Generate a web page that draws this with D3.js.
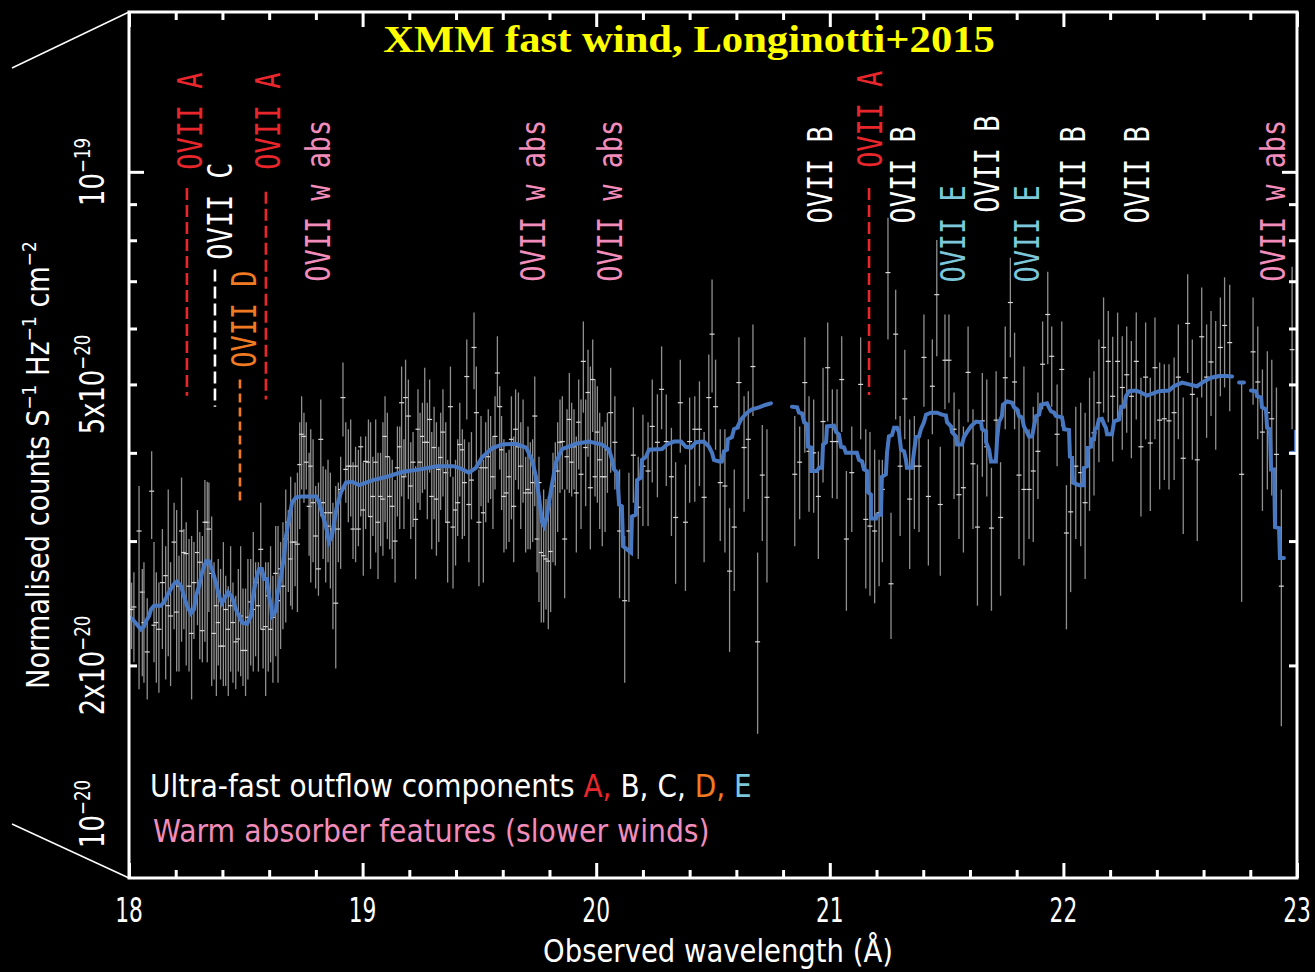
<!DOCTYPE html>
<html>
<head>
<meta charset="utf-8">
<script src="https://cdn.jsdelivr.net/npm/d3@7"></script>
<style>
  html, body { margin: 0; padding: 0; background: #000; }
  svg { display: block; }
</style>
</head>
<body>
<svg id="chart" width="1315" height="972"></svg>
<script>
/* XMM RGS spectrum around the OVII lines, fluxes in units of 1e-20. */

/* ---------- DATA ---------- */

// binned spectrum: [wavelength, lower, value, upper]
const points = [
  [18.011,2.11,2.40,2.62],[18.021,2.02,2.42,2.71],[18.043,1.85,3.10,3.59],[18.057,1.93,2.54,2.74],
  [18.064,1.89,2.30,2.80],[18.078,1.79,2.09,2.49],[18.097,3.02,3.53,4.02],[18.107,2.02,2.28,2.99],
  [18.117,1.89,2.30,2.71],[18.128,1.83,2.25,2.62],[18.143,2.11,2.62,3.12],[18.157,1.91,2.68,2.95],
  [18.168,2.06,2.43,3.55],[18.178,1.87,2.35,2.80],[18.193,2.25,2.99,3.40],[18.204,1.96,2.38,3.32],
  [18.214,1.96,2.59,2.86],[18.225,2.16,3.10,3.69],[18.235,2.25,2.89,3.12],[18.245,2.00,2.88,3.19],
  [18.257,1.96,2.59,3.02],[18.268,1.79,2.22,3.05],[18.278,2.18,2.62,2.99],[18.293,2.28,2.89,3.32],
  [18.303,2.04,2.80,3.09],[18.314,2.02,2.24,3.05],[18.325,2.16,3.19,3.66],[18.335,2.02,3.19,3.64],
  [18.342,2.38,3.12,3.63],[18.354,1.87,2.70,3.25],[18.364,1.91,2.22,2.80],[18.374,1.81,2.43,2.57],
  [18.382,2.00,2.30,2.83],[18.392,1.91,2.13,2.74],[18.404,1.87,2.13,2.99],[18.414,1.87,2.40,2.68],
  [18.425,1.81,2.25,2.59],[18.435,1.96,2.43,2.95],[18.445,1.89,2.30,2.62],[18.457,1.85,2.16,2.51],
  [18.468,1.96,2.18,2.74],[18.478,1.93,2.35,2.95],[18.488,1.87,2.10,2.57],[18.499,1.81,2.10,2.57],
  [18.509,1.91,2.34,2.83],[18.521,2.00,2.46,2.83],[18.532,1.96,2.40,3.09],[18.542,2.06,2.62,2.80],
  [18.554,1.96,2.43,2.80],[18.564,2.25,2.92,3.40],[18.574,1.98,2.25,2.74],[18.585,1.81,2.27,2.80],
  [18.596,1.96,2.51,2.80],[18.606,2.02,2.25,2.95],[18.616,1.89,2.34,2.68],[18.628,2.06,2.70,3.15],
  [18.638,1.89,2.47,3.15],[18.649,2.11,2.74,2.99],[18.659,2.25,2.59,3.19],[18.671,2.30,3.02,3.55],
  [18.682,2.54,3.19,3.32],[18.692,2.43,2.83,3.70],[18.699,2.40,2.99,3.36],[18.711,2.59,2.99,3.63],
  [18.721,2.38,2.97,3.75],[18.731,3.12,3.85,4.42],[18.739,3.55,4.25,4.81],[18.749,3.40,4.22,4.56],
  [18.759,3.55,3.88,4.42],[18.771,2.86,3.36,4.00],[18.778,2.62,3.83,4.32],[18.788,2.80,3.40,4.18],
  [18.799,2.57,3.05,3.59],[18.811,2.51,2.74,3.63],[18.821,3.25,4.18,4.76],[18.831,2.83,3.40,3.83],
  [18.842,2.62,3.29,3.79],[18.852,2.80,3.15,3.91],[18.862,2.57,3.29,3.75],[18.873,2.25,3.12,3.40],
  [18.885,1.98,2.45,3.59],[18.896,2.80,3.12,3.63],[18.906,2.74,3.55,3.95],[18.916,4.22,4.79,5.37],
  [18.928,3.40,3.79,4.42],[18.939,3.19,3.83,4.32],[18.949,3.25,3.83,4.46],[18.959,2.83,3.12,3.88],
  [18.970,2.80,3.83,4.08],[18.982,2.95,3.12,4.04],[18.992,3.25,4.08,4.22],[19.003,2.68,3.32,3.88],
  [19.013,3.12,3.89,4.22],[19.025,3.25,3.88,4.46],
  [19.034,2.74,3.25,4.42],[19.044,3.05,3.47,3.95],[19.056,2.89,3.88,4.46],[19.066,2.65,3.19,4.00],
  [19.077,2.95,3.47,4.00],[19.087,2.86,3.44,4.42],[19.096,3.19,4.22,4.81],[19.106,3.02,3.95,4.56],
  [19.116,2.92,3.47,3.95],[19.127,2.83,3.36,3.91],[19.139,2.62,3.00,3.66],[19.149,3.25,3.81,4.36],
  [19.159,3.12,4.08,4.36],[19.167,3.47,4.71,5.30],[19.177,3.12,3.70,4.18],[19.184,3.70,4.79,5.42],
  [19.196,3.44,4.51,5.08],[19.206,3.02,3.59,4.14],[19.216,3.14,3.88,4.28],[19.227,2.65,3.22,3.83],
  [19.237,3.40,4.32,4.92],[19.246,3.32,3.88,4.56],[19.256,3.51,4.22,4.71],[19.266,3.55,4.14,5.28],
  [19.277,3.22,4.14,4.71],[19.287,3.75,4.46,5.08],[19.296,2.92,3.47,4.28],[19.306,3.22,4.07,4.65],
  [19.316,2.86,3.44,4.42],[19.326,2.99,3.79,4.08],[19.334,3.32,3.94,4.56],[19.344,3.47,4.28,4.92],
  [19.356,3.19,3.75,4.42],[19.364,2.62,3.19,3.91],[19.376,3.70,4.65,5.30],[19.387,2.57,3.14,3.70],
  [19.398,2.77,3.32,3.91],[19.407,3.05,3.40,4.18],[19.416,3.47,4.11,4.71],[19.427,3.02,4.04,4.32],
  [19.436,3.05,3.63,4.18],[19.446,4.46,5.13,5.79],[19.455,2.80,3.38,4.14],[19.466,3.22,3.66,4.28],
  [19.477,4.92,5.64,6.32],[19.487,3.83,4.56,5.30],[19.498,2.59,3.19,3.79],[19.507,3.36,3.81,4.51],
  [19.517,2.62,3.29,3.91],[19.527,3.19,3.81,4.42],[19.538,3.40,3.95,4.61],[19.548,3.44,4.04,4.51],
  [19.558,3.12,3.70,4.22],[19.567,3.55,4.22,4.81],[19.577,4.65,5.19,5.85],[19.587,3.79,4.65,4.97],
  [19.595,3.32,4.04,4.51],[19.605,2.89,3.47,4.18],[19.615,2.92,3.51,4.00],[19.627,2.99,3.70,4.04],
  [19.637,3.22,4.18,4.81],[19.647,2.80,3.36,4.22],[19.655,3.66,4.32,4.92],[19.667,3.55,4.08,4.87],
  [19.677,3.12,3.83,4.42],[19.687,3.40,4.08,4.76],[19.698,2.89,3.51,3.95],[19.708,2.92,3.55,4.36],
  [19.718,2.92,3.51,4.14],[19.728,2.99,3.63,4.18],[19.737,3.36,4.51,5.13],[19.747,2.71,3.02,3.70],
  [19.755,2.46,3.63,3.95],[19.765,2.30,2.89,3.25],[19.775,2.30,2.86,3.55],[19.785,2.40,2.83,3.44],
  [19.795,2.25,2.81,3.47],[19.805,2.38,2.90,3.40],[19.815,2.80,3.59,4.00],[19.825,2.77,3.77,4.14],
  [19.835,3.09,3.77,4.42],[19.845,3.51,4.14,4.76],[19.855,3.55,4.15,4.81],[19.865,2.49,3.02,3.55],
  [19.875,3.55,3.95,4.61],[19.885,3.51,4.46,5.19],[19.895,3.47,3.88,4.71],[19.905,3.55,4.08,4.61],
  [19.915,2.89,3.51,4.22],[19.925,3.79,4.42,5.08],[19.935,3.12,3.73,4.76],[19.945,4.56,5.39,6.14],
  [19.955,3.36,4.07,4.76],[19.965,3.95,4.87,5.60],[19.975,2.92,3.57,5.30],[19.985,4.28,5.08,5.79],
  [19.995,3.47,3.70,5.08],[20.005,3.40,4.28,4.97],[20.015,3.12,3.91,4.56],[20.026,2.95,3.70,4.36],
  [20.038,3.09,3.70,4.42],[20.048,3.51,4.04,4.56],
  [20.062,3.75,4.56,5.28],[20.080,3.55,4.14,4.81],[20.100,2.49,3.10,3.79],[20.122,1.89,2.47,3.05],
  [20.140,2.46,3.10,3.75],[20.159,3.40,3.97,4.64],[20.180,2.83,3.35,3.95],[20.200,3.15,3.83,4.53],
  [20.222,3.15,3.77,4.42],[20.240,3.63,4.36,5.08],[20.262,3.46,4.14,4.84],[20.280,4.32,4.92,5.66],
  [20.300,3.59,4.15,4.84],[20.322,3.05,3.70,4.34],[20.340,2.61,3.24,3.88],[20.360,4.00,4.71,5.42],
  [20.382,2.55,3.19,3.85],[20.400,3.40,4.15,4.79],[20.422,3.41,4.32,4.81],[20.442,3.59,4.32,5.05],
  [20.462,2.80,3.46,4.28],[20.482,4.04,4.79,5.51],[20.496,4.87,5.89,7.04],[20.511,4.04,4.65,5.42],
  [20.531,3.00,3.63,4.32],[20.551,2.89,3.59,4.32],[20.571,2.09,2.72,3.34],[20.591,2.55,3.14,3.79],
  [20.611,4.32,5.03,5.83],[20.633,3.30,4.07,4.81],[20.651,3.44,4.18,4.89],[20.671,4.51,5.30,6.08],
  [20.691,1.60,2.16,2.89],[20.711,3.00,3.72,4.38],[20.731,2.62,3.46,4.32],
  [20.850,2.95,3.73,4.51],[20.871,3.22,3.88,4.36],[20.893,4.00,5.03,5.83],[20.911,3.30,4.02,4.81],
  [20.931,3.29,4.00,4.76],[20.951,2.83,3.47,4.02],[20.971,3.63,4.43,5.28],[20.991,4.43,5.28,6.12],
  [21.011,3.45,4.15,4.92],[21.031,3.44,4.15,4.92],[21.051,4.28,5.08,5.85],[21.071,2.39,3.02,3.77],
  [21.094,3.09,3.75,4.36],[21.132,4.18,5.00,5.83],[21.154,2.57,3.22,4.32],[21.172,2.51,3.15,4.28],
  [21.192,2.45,3.10,4.04],[21.211,2.59,3.29,3.91],[21.225,2.80,3.55,3.91],[21.249,5.79,7.20,8.61],
  [21.262,2.18,2.61,3.29],[21.282,4.46,5.89,6.81],[21.301,3.05,3.83,4.51],[21.321,4.18,4.77,5.60],
  [21.342,2.74,3.44,4.46],[21.362,3.12,3.83,4.51],[21.382,3.09,3.83,4.28],[21.403,4.65,5.46,6.28],
  [21.422,2.77,3.47,4.18],[21.439,4.25,4.97,5.79],[21.458,5.48,6.70,8.01],[21.473,2.68,3.38,4.08],
  [21.493,4.61,5.41,6.28],[21.510,4.71,5.41,6.28],[21.532,3.44,4.32,4.87],[21.553,3.02,3.49,4.61],
  [21.572,2.89,3.57,4.36],[21.592,4.42,5.20,6.04],[21.613,3.12,3.86,4.61],[21.632,2.43,3.14,3.85],
  [21.653,3.70,4.44,5.19],[21.672,3.47,4.08,5.08],[21.692,2.39,3.13,3.81],[21.712,3.88,4.45,5.22],
  [21.731,2.51,3.24,3.88],[21.751,4.32,5.11,6.04],[21.773,5.46,6.53,7.56],[21.791,4.32,5.04,5.92],
  [21.810,2.83,3.72,4.61],[21.831,2.77,3.55,5.30],[21.853,3.02,3.55,4.32],[21.871,2.99,3.77,4.65],
  [21.891,3.44,4.02,4.87],[21.911,4.61,5.34,6.14],[21.933,5.34,6.28,7.22],[21.950,4.65,5.48,6.04],
  [21.973,3.83,4.25,5.00],[21.993,4.36,5.25,6.14],[22.013,2.25,3.08,3.60],[22.031,2.54,3.30,3.93],
  [22.053,3.02,3.83,4.65],
  [22.074,2.95,3.75,4.71],[22.093,2.65,3.40,4.56],[22.112,3.31,4.08,5.11],[22.131,3.48,4.27,5.22],
  [22.152,3.88,4.71,5.79],[22.172,4.56,5.64,6.64],[22.192,4.42,5.39,6.35],[22.211,3.89,4.81,5.84],
  [22.232,4.47,5.39,6.32],[22.252,4.04,4.95,5.85],[22.271,4.27,5.16,6.04],[22.291,3.93,4.81,5.76],
  [22.312,4.46,5.39,6.32],[22.332,3.25,4.08,5.11],[22.352,4.18,5.12,6.12],[22.372,3.31,4.13,5.11],
  [22.392,4.18,5.28,6.22],[22.412,3.55,4.45,5.37],[22.432,3.66,4.47,5.34],[22.452,3.55,4.44,5.34],
  [22.474,3.66,4.56,5.46],[22.492,4.18,5.12,6.08],[22.513,3.07,3.93,4.79],[22.532,5.19,6.10,7.16],
  [22.552,3.91,4.84,5.79],[22.573,3.00,3.91,4.79],[22.592,4.79,5.84,6.86],[22.613,4.20,5.12,6.08],
  [22.632,4.51,5.38,6.35],[22.652,4.04,5.11,6.15],[22.672,4.81,5.64,6.64],[22.690,4.95,6.06,7.09],
  [22.712,4.58,5.73,6.92],[22.763,2.46,3.73,5.03],[22.812,4.68,5.56,6.64],[22.832,4.18,5.04,6.04],
  [22.852,3.31,4.28,5.25],[22.873,3.55,4.56,5.57],[22.892,3.48,4.47,5.42],[22.912,3.15,3.98,4.95],
  [22.933,1.64,2.59,3.55],[22.979,4.32,5.60,7.34]
];

// best-fit model, [wavelength, flux]; null marks a gap in the chip coverage
const model = [
  [18.000,2.34],[18.013,2.33],[18.051,2.25],[18.064,2.27],[18.073,2.31],[18.086,2.35],[18.094,2.40],
  [18.107,2.43],[18.137,2.43],[18.150,2.46],[18.163,2.51],[18.180,2.57],[18.193,2.61],[18.205,2.63],
  [18.223,2.59],[18.235,2.51],[18.248,2.43],[18.265,2.37],[18.278,2.40],[18.287,2.51],[18.300,2.59],
  [18.313,2.71],[18.330,2.81],[18.342,2.81],[18.355,2.74],[18.372,2.62],[18.385,2.51],[18.398,2.45],
  [18.415,2.51],[18.424,2.54],[18.441,2.50],[18.458,2.40],[18.471,2.35],[18.484,2.30],[18.505,2.29],
  [18.522,2.35],[18.531,2.51],[18.544,2.65],[18.557,2.74],[18.569,2.74],[18.578,2.65],[18.591,2.65],
  [18.599,2.51],[18.608,2.43],[18.612,2.35],[18.629,2.39],[18.634,2.51],[18.651,2.68],[18.664,2.86],
  [18.672,3.05],[18.685,3.22],[18.698,3.40],[18.715,3.46],[18.741,3.47],[18.801,3.47],[18.813,3.41],
  [18.826,3.29],[18.843,3.15],[18.856,2.99],[18.869,3.05],[18.878,3.19],[18.890,3.36],[18.908,3.52],
  [18.929,3.63],[18.955,3.64],[18.985,3.60],[19.015,3.63],[19.045,3.66],[19.104,3.70],[19.173,3.76],
  [19.246,3.79],[19.318,3.83],[19.387,3.83],[19.413,3.81],[19.455,3.75],[19.485,3.81],[19.511,3.94],
  [19.554,4.06],[19.597,4.11],[19.657,4.12],[19.700,4.07],[19.725,3.91],[19.742,3.70],[19.755,3.47],
  [19.768,3.19],[19.777,3.15],[19.789,3.25],[19.807,3.55],[19.828,3.88],[19.854,4.05],[19.914,4.12],
  [19.969,4.15],[20.025,4.11],[20.055,4.04],[20.068,3.91],[20.076,3.79],[20.089,3.75],[20.098,3.38],
  [20.110,3.36],[20.115,2.95],[20.132,2.92],[20.149,2.89],[20.153,3.25],[20.170,3.27],[20.175,3.66],
  [20.192,3.69],[20.196,3.91],[20.213,3.95],[20.226,4.04],[20.282,4.05],[20.303,4.11],[20.333,4.15],
  [20.363,4.15],[20.384,4.08],[20.406,4.07],[20.427,4.14],[20.461,4.15],[20.483,4.08],[20.496,4.00],
  [20.504,3.91],[20.526,3.89],[20.538,3.89],[20.547,4.02],[20.560,4.04],[20.564,4.18],[20.581,4.21],
  [20.590,4.32],[20.603,4.34],[20.620,4.46],[20.633,4.51],[20.646,4.56],[20.667,4.61],[20.697,4.64],
  [20.727,4.68],[20.748,4.70],
  null,
  [20.838,4.65],[20.860,4.64],[20.868,4.56],[20.881,4.55],[20.890,4.42],[20.902,4.39],[20.907,4.08],
  [20.920,4.07],[20.920,3.77],[20.945,3.77],[20.954,3.81],[20.967,3.81],[20.971,4.11],[20.984,4.14],
  [20.988,4.36],[21.018,4.37],[21.027,4.28],[21.039,4.25],[21.048,4.08],[21.061,4.07],[21.069,4.00],
  [21.116,4.00],[21.125,3.91],[21.138,3.89],[21.146,3.79],[21.159,3.77],[21.164,3.52],[21.176,3.49],
  [21.176,3.23],[21.198,3.23],[21.202,3.27],[21.219,3.27],[21.223,3.70],[21.240,3.73],[21.245,4.00],
  [21.253,4.22],[21.266,4.24],[21.275,4.34],[21.288,4.34],[21.296,4.28],[21.305,4.04],[21.318,4.02],
  [21.326,3.91],[21.330,3.81],[21.352,3.81],[21.360,4.00],[21.369,4.21],[21.382,4.22],[21.390,4.32],
  [21.403,4.42],[21.412,4.53],[21.433,4.56],[21.459,4.56],[21.480,4.53],[21.497,4.52],[21.502,4.42],
  [21.519,4.36],[21.523,4.28],[21.540,4.22],[21.545,4.11],[21.566,4.11],[21.574,4.21],[21.587,4.28],
  [21.604,4.36],[21.626,4.43],[21.647,4.42],[21.652,4.32],[21.669,4.29],[21.669,4.14],[21.682,4.04],
  [21.690,3.89],[21.711,3.89],[21.716,4.18],[21.724,4.42],[21.737,4.51],[21.741,4.68],[21.759,4.73],
  [21.780,4.71],[21.789,4.64],[21.801,4.61],[21.810,4.51],[21.823,4.49],[21.831,4.36],[21.844,4.28],
  [21.853,4.22],[21.866,4.22],[21.874,4.36],[21.883,4.51],[21.896,4.53],[21.904,4.68],[21.930,4.70],
  [21.938,4.64],[21.947,4.58],[21.960,4.56],[21.968,4.51],[21.994,4.49],[22.003,4.32],[22.024,4.31],
  [22.028,3.95],[22.037,3.94],[22.041,3.63],[22.067,3.60],[22.084,3.60],[22.088,3.81],[22.101,3.83],
  [22.105,4.07],[22.118,4.08],[22.118,4.18],[22.131,4.18],[22.135,4.32],[22.144,4.34],[22.152,4.46],
  [22.165,4.47],[22.174,4.39],[22.182,4.34],[22.187,4.25],[22.208,4.25],[22.217,4.43],[22.238,4.46],
  [22.247,4.65],[22.259,4.65],[22.268,4.81],[22.281,4.89],[22.311,4.90],[22.332,4.87],[22.358,4.82],
  [22.379,4.85],[22.409,4.89],[22.452,4.90],[22.473,4.97],[22.508,5.03],[22.538,5.00],[22.572,4.97],
  [22.602,5.05],[22.632,5.11],[22.666,5.14],[22.696,5.14],[22.722,5.13],
  null,
  [22.752,5.03],[22.773,5.03],
  null,
  [22.803,4.90],[22.825,4.89],[22.829,4.81],[22.846,4.79],[22.850,4.64],[22.867,4.61],[22.872,4.34],
  [22.884,4.32],[22.889,3.79],[22.902,3.79],[22.906,3.14],[22.923,3.13],[22.927,2.84],[22.944,2.84],
  null,
  [22.974,4.00],[22.996,4.00],[22.996,4.28],[23.000,4.28]
];

// line identifications: [wavelength, flux at lower end of label, text, component]
const lineLabels = [
  [18.261, 10.07, "OVII A", "A"],
  [18.390, 7.51, "OVII C", "C"],
  [18.492, 5.28, "OVII D", "D"],
  [18.595, 10.07, "OVII A", "A"],
  [18.809, 6.99, "OVII w abs", "W"],
  [19.729, 6.99, "OVII w abs", "W"],
  [20.059, 6.99, "OVII w abs", "W"],
  [20.958, 8.45, "OVII B", "B"],
  [21.172, 10.13, "OVII A", "A"],
  [21.313, 8.45, "OVII B", "B"],
  [21.527, 6.97, "OVII E", "E"],
  [21.673, 8.75, "OVII B", "B"],
  [21.844, 6.97, "OVII E", "E"],
  [22.041, 8.45, "OVII B", "B"],
  [22.315, 8.45, "OVII B", "B"],
  [22.897, 6.99, "OVII w abs", "W"]
];

// dashed markers: [wavelength, upper flux, lower flux, component]
const markerLines = [
  [18.248, 9.49, 4.82, "A"],
  [18.368, 7.27, 4.65, "C"],
  [18.475, 5.08, 3.41, "D"],
  [18.586, 9.37, 4.76, "A"],
  [21.168, 9.49, 4.83, "A"]
];

const xMajorTicks = [18, 19, 20, 21, 22, 23];
const yMajorTicks = [10];
const yMinorTicks = [2, 3, 4, 5, 6, 7, 8, 9];
const yLabelValues = [10, 5, 2, 1];
const yLabelMantissa = ["10", "5x10", "2x10", "10"];
const yLabelExponent = ["\u221219", "\u221220", "\u221220", "\u221220"];

const compColor = {
  A: "#e8262b", B: "#ffffff", C: "#ffffff", D: "#f07a22", E: "#7cc8da", W: "#f28dbb"
};

/* ---------- SETUP ---------- */

const W = 1315, H = 972;
const plotL = 129, plotR = 1297, plotT = 12, plotB = 878;
const SANS = "'DejaVu Sans', sans-serif";
const MONO = "'DejaVu Sans Mono', monospace";

const x = d3.scaleLinear().domain([18, 23]).range([plotL, plotR]);
const y = d3.scaleLog().domain([1, 16.84]).range([plotB, plotT]);

const svg = d3.select("#chart");
svg.append("rect").attr("width", W).attr("height", H).attr("fill", "#000");

svg.append("defs").append("clipPath").attr("id", "plotClip")
  .append("rect").attr("x", plotL).attr("y", plotT)
  .attr("width", plotR - plotL).attr("height", plotB - plotT);

/* squeeze a text horizontally (in its own frame) so it spans `target` px */
function fitText(sel, target, tx, ty, rot) {
  const len = sel.node().getComputedTextLength();
  const k = target / len;
  sel.attr("transform", "translate(" + tx + "," + ty + ")" +
    (rot ? " rotate(" + rot + ")" : "") + " scale(" + k + ",1)");
}

/* ---------- DATA MARKS ---------- */

const dataLayer = svg.append("g").attr("clip-path", "url(#plotClip)");

const bins = dataLayer.append("g").selectAll("g").data(points).join("g");
bins.append("line")
  .attr("x1", d => x(d[0])).attr("x2", d => x(d[0]))
  .attr("y1", d => y(d[1])).attr("y2", d => y(d[3]))
  .attr("stroke", "#8f8f8f").attr("stroke-width", 1.3);
bins.append("line")
  .attr("x1", d => x(d[0]) - 2.5).attr("x2", d => x(d[0]) + 2.5)
  .attr("y1", d => y(d[2])).attr("y2", d => y(d[2]))
  .attr("stroke", "#d8d8d8").attr("stroke-width", 1.2);

const modelLine = d3.line()
  .defined(d => d !== null)
  .x(d => x(d[0]))
  .y(d => y(d[1]));

dataLayer.append("path")
  .datum(model)
  .attr("d", modelLine)
  .attr("fill", "none")
  .attr("stroke", "#4878c2")
  .attr("stroke-width", 4)
  .attr("stroke-linejoin", "miter")
  .attr("stroke-linecap", "round");

/* ---------- LINE IDENTIFICATIONS ---------- */

svg.append("g").selectAll("line").data(markerLines).join("line")
  .attr("x1", d => x(d[0])).attr("x2", d => x(d[0]))
  .attr("y1", d => y(d[1])).attr("y2", d => y(d[2]))
  .attr("stroke", d => compColor[d[3]])
  .attr("stroke-width", 2.6)
  .attr("stroke-dasharray", d => d[3] === "D" ? "9,5" : "12,5");

svg.append("g").selectAll("text").data(lineLabels).join("text")
  .attr("transform", d => "translate(" + x(d[0]) + "," + y(d[1]) + ") rotate(-90) scale(0.815,1)")
  .attr("dy", "0.36em")
  .attr("font-family", MONO)
  .attr("font-size", 33)
  .attr("fill", d => compColor[d[3]])
  .attr("xml:space", "preserve")
  .text(d => d[2]);

/* ---------- AXES ---------- */

function tickAxis(axis, tr, values, size) {
  const g = svg.append("g").attr("transform", tr)
    .call(axis.tickValues(values).tickSize(size).tickSizeOuter(0).tickFormat(""));
  g.select(".domain").remove();
  g.selectAll(".tick line").attr("stroke", "#fff").attr("stroke-width", 3);
}

const xMinorTicks = d3.range(180, 231, 2).map(v => v / 10).filter(v => v % 1 !== 0);

tickAxis(d3.axisBottom(x), "translate(0," + plotB + ")", xMajorTicks, -15);
tickAxis(d3.axisBottom(x), "translate(0," + plotB + ")", xMinorTicks, -8);
tickAxis(d3.axisTop(x), "translate(0," + plotT + ")", xMajorTicks, -15);
tickAxis(d3.axisTop(x), "translate(0," + plotT + ")", xMinorTicks, -8);
tickAxis(d3.axisLeft(y), "translate(" + plotL + ",0)", yMajorTicks, -15);
tickAxis(d3.axisLeft(y), "translate(" + plotL + ",0)", yMinorTicks, -8);
tickAxis(d3.axisRight(y), "translate(" + plotR + ",0)", yMajorTicks, -15);
tickAxis(d3.axisRight(y), "translate(" + plotR + ",0)", yMinorTicks, -8);

svg.append("rect")
  .attr("x", plotL).attr("y", plotT)
  .attr("width", plotR - plotL).attr("height", plotB - plotT)
  .attr("fill", "none").attr("stroke", "#fff").attr("stroke-width", 3);

// thin guide lines that lead out of the frame on the left
svg.append("line").attr("x1", 12).attr("y1", plotT + 56).attr("x2", plotL).attr("y2", plotT)
  .attr("stroke", "#fff").attr("stroke-width", 1.4);
svg.append("line").attr("x1", 12).attr("y1", plotB - 54).attr("x2", plotL).attr("y2", plotB)
  .attr("stroke", "#fff").attr("stroke-width", 1.4);

// x tick labels
svg.append("g").selectAll("text").data(xMajorTicks).join("text")
  .attr("transform", d => "translate(" + x(d) + "," + (plotB + 44) + ") scale(0.64,1)")
  .attr("text-anchor", "middle")
  .attr("font-family", SANS)
  .attr("font-size", 34)
  .attr("fill", "#fff")
  .text(d => d);

// y tick labels, rotated, with superscript exponents
yLabelValues.forEach(function (v, i) {
  const t = svg.append("text")
    .attr("text-anchor", "middle")
    .attr("font-family", SANS)
    .attr("font-size", 34)
    .attr("fill", "#fff");
  t.append("tspan").text(yLabelMantissa[i]);
  t.append("tspan").attr("font-size", 22).attr("dy", -14).text(yLabelExponent[i]);
  const k = 0.76;
  const half = t.node().getComputedTextLength() * k / 2;
  const yc = Math.min(y(v), plotB - 30 - half);
  t.attr("transform", "translate(104," + yc + ") rotate(-90) scale(" + k + ",1)");
});

// y axis title
const yTitle = svg.append("text")
  .attr("text-anchor", "middle")
  .attr("font-family", SANS)
  .attr("font-size", 32)
  .attr("fill", "#fff");
yTitle.append("tspan").text("Normalised counts S");
yTitle.append("tspan").attr("font-size", 20).attr("dy", -13).text("\u22121");
yTitle.append("tspan").attr("dy", 13).text(" Hz");
yTitle.append("tspan").attr("font-size", 20).attr("dy", -13).text("\u22121");
yTitle.append("tspan").attr("dy", 13).text(" cm");
yTitle.append("tspan").attr("font-size", 20).attr("dy", -13).text("\u22122");
fitText(yTitle, 448, 49, 465, -90);

// x axis title
const xTitle = svg.append("text")
  .attr("text-anchor", "middle")
  .attr("font-family", SANS)
  .attr("font-size", 32)
  .attr("fill", "#fff")
  .text("Observed wavelength (\u00c5)");
fitText(xTitle, 350, 718, 962);

/* ---------- TITLE AND LEGEND ---------- */

const title = svg.append("text")
  .attr("text-anchor", "middle")
  .attr("font-family", "'Liberation Serif', 'Times New Roman', serif")
  .attr("font-weight", "bold")
  .attr("font-size", 37)
  .attr("fill", "#ffff00")
  .text("XMM fast wind, Longinotti+2015");
fitText(title, 612, 689, 52);

const legend1 = svg.append("text")
  .attr("font-family", SANS)
  .attr("font-size", 32)
  .attr("fill", "#fff")
  .attr("xml:space", "preserve");
legend1.append("tspan").text("Ultra-fast outflow components ");
legend1.append("tspan").attr("fill", compColor.A).text("A,");
legend1.append("tspan").text(" B, C, ");
legend1.append("tspan").attr("fill", compColor.D).text("D,");
legend1.append("tspan").attr("fill", compColor.E).text(" E");
fitText(legend1, 602, 150, 797);

const legend2 = svg.append("text")
  .attr("font-family", SANS)
  .attr("font-size", 32)
  .attr("fill", compColor.W)
  .text("Warm absorber features (slower winds)");
fitText(legend2, 557, 153, 842);
</script>
</body>
</html>
